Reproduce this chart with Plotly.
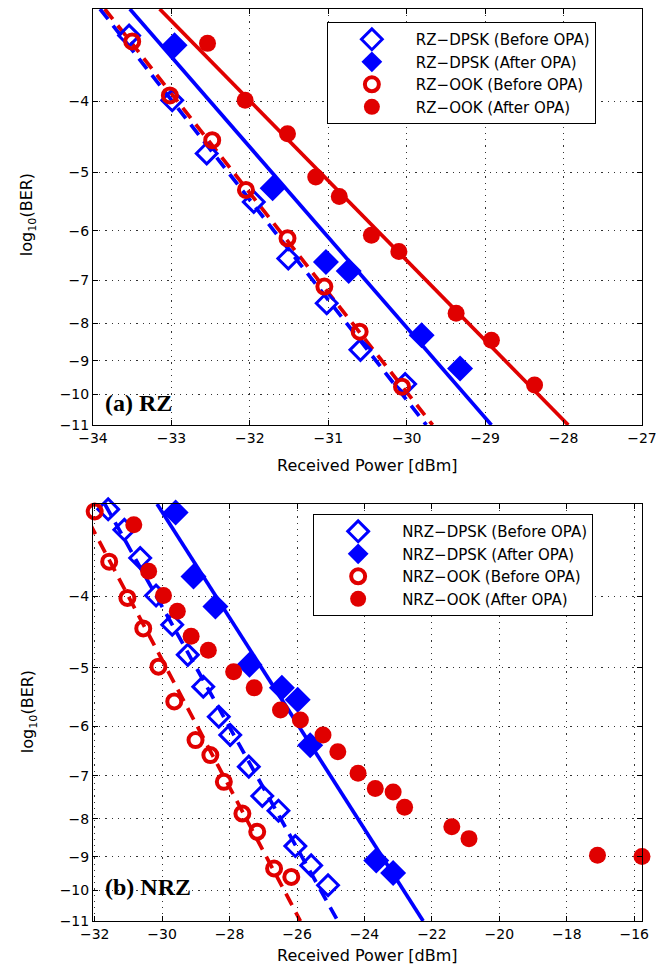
import math
import plotly.graph_objects as go

# ---------------- data (log10(BER) vs received power in dBm) ----------------
# (a) RZ
rz_dpsk_before_x = [-33.54, -32.99, -32.55, -31.95, -31.51, -31.02, -30.59, -30.02]
rz_dpsk_before_y = [-3.26, -3.99, -4.71, -5.48, -6.54, -7.52, -8.70, -9.68]
rz_dpsk_after_x = [-32.96, -31.71, -31.03, -30.74, -29.81, -29.32]
rz_dpsk_after_y = [-3.36, -5.25, -6.61, -6.80, -8.31, -9.22]
rz_ook_before_x = [-33.50, -33.02, -32.48, -32.05, -31.52, -31.05, -30.60, -30.06]
rz_ook_before_y = [-3.32, -3.93, -4.52, -5.28, -6.14, -7.14, -8.22, -9.76]
rz_ook_after_x = [-32.54, -32.06, -31.52, -31.16, -30.86, -30.45, -30.10, -29.37, -28.92, -28.37]
rz_ook_after_y = [-3.34, -3.99, -4.43, -5.07, -5.39, -6.08, -6.40, -7.76, -8.44, -9.71]
# fitted lines (end points)
rz_fit_dpsk_before_x = [-33.91, -29.75]
rz_fit_dpsk_before_y = [-3, -11]
rz_fit_ook_before_x = [-33.85, -29.67]
rz_fit_ook_before_y = [-3, -11]
rz_fit_dpsk_after_x = [-33.53, -28.92]
rz_fit_dpsk_after_y = [-3, -11]
rz_fit_ook_after_x = [-33.15, -27.94]
rz_fit_ook_after_y = [-3, -11]

# (b) NRZ
nrz_dpsk_before_x = [-31.60, -31.12, -30.65, -30.18, -29.70, -29.24, -28.78, -28.32,
                     -27.98, -27.43, -27.03, -26.55, -26.05, -25.58, -25.08]
nrz_dpsk_before_y = [-3.05, -3.25, -3.55, -3.99, -4.37, -4.80, -5.30, -5.82,
                     -6.16, -6.80, -7.45, -7.80, -8.71, -9.25, -9.84]
nrz_dpsk_after_x = [-29.60, -29.07, -28.42, -27.41, -26.45, -25.98, -25.61, -23.65, -23.15]
nrz_dpsk_after_y = [-3.08, -3.76, -4.13, -4.95, -5.32, -5.52, -6.36, -9.11, -9.47]
nrz_ook_before_x = [-32.00, -31.57, -31.03, -30.56, -30.11, -29.64, -29.01, -28.57,
                    -28.17, -27.62, -27.18, -26.68, -26.17]
nrz_ook_before_y = [-3.07, -3.59, -4.02, -4.42, -4.98, -5.55, -6.26, -6.56,
                    -7.13, -7.87, -8.33, -9.34, -9.59]
nrz_ook_after_x = [-31.34, -30.84, -30.40, -29.96, -29.55, -29.14, -28.63, -27.88, -27.27,
                   -26.49, -25.90, -25.23, -24.79, -24.19, -23.68, -23.15, -22.81, -21.41,
                   -20.90, -17.09, -15.77]
nrz_ook_after_y = [-3.00, -3.20, -3.70, -3.99, -4.19, -4.53, -4.73, -5.06, -5.32,
                   -5.70, -5.88, -6.16, -6.49, -6.94, -7.28, -7.36, -7.72, -8.20,
                   -8.51, -8.96, -9.00]
nrz_fit_dpsk_before_x = [-31.70, -24.79]
nrz_fit_dpsk_before_y = [-3, -11]
nrz_fit_ook_before_x = [-32.45, -25.90]
nrz_fit_ook_before_y = [-3, -11]
nrz_fit_dpsk_after_x = [-30.15, -22.26]
nrz_fit_dpsk_after_y = [-3, -11]

ytick_vals = [-4, -5, -6, -7, -8, -9, -10, -11]
ytick_text = ["−4", "−5", "−6", "−7", "−8", "−9", "−10", "−11"]
xtick_top = [-34, -33, -32, -31, -30, -29, -28, -27]
xtick_bot = [-32, -30, -28, -26, -24, -22, -20, -18, -16]

# ---------------- figure ----------------
BLUE = "#0000ff"
RED = "#e00000"
FONT = "DejaVu Sans, Liberation Sans, Arial, sans-serif"
SERIF = "Liberation Serif, Times New Roman, serif"


def neg(v):
    return [-a for a in v]


fig = go.Figure()


def markers(x, y, name, symbol, color, xa, ya, legend, size, lw):
    fig.add_trace(go.Scatter(
        x=x, y=neg(y), mode="markers", name=name, xaxis=xa, yaxis=ya, legend=legend,
        cliponaxis=False,
        marker=dict(symbol=symbol, color=color, size=size,
                    line=dict(color=color, width=lw))))


def fitline(x, y, color, dash, xa, ya):
    fig.add_trace(go.Scatter(
        x=x, y=neg(y), mode="lines", showlegend=False, xaxis=xa, yaxis=ya,
        line=dict(color=color, width=3.7, dash=dash)))


DASH = "13px,8px"
# top panel
fitline(rz_fit_dpsk_before_x, rz_fit_dpsk_before_y, BLUE, DASH, "x", "y")
fitline(rz_fit_ook_before_x, rz_fit_ook_before_y, RED, DASH, "x", "y")
fitline(rz_fit_dpsk_after_x, rz_fit_dpsk_after_y, BLUE, "solid", "x", "y")
fitline(rz_fit_ook_after_x, rz_fit_ook_after_y, RED, "solid", "x", "y")
markers(rz_dpsk_before_x, rz_dpsk_before_y, "RZ−DPSK (Before OPA)", "diamond-open", BLUE, "x", "y", "legend", 16, 3)
markers(rz_dpsk_after_x, rz_dpsk_after_y, "RZ−DPSK (After OPA)", "diamond", BLUE, "x", "y", "legend", 20, 0)
markers(rz_ook_before_x, rz_ook_before_y, "RZ−OOK (Before OPA)", "circle-open", RED, "x", "y", "legend", 14, 4)
markers(rz_ook_after_x, rz_ook_after_y, "RZ−OOK (After OPA)", "circle", RED, "x", "y", "legend", 17, 0)

# bottom panel
fitline(nrz_fit_dpsk_before_x, nrz_fit_dpsk_before_y, BLUE, DASH, "x2", "y2")
fitline(nrz_fit_ook_before_x, nrz_fit_ook_before_y, RED, DASH, "x2", "y2")
fitline(nrz_fit_dpsk_after_x, nrz_fit_dpsk_after_y, BLUE, "solid", "x2", "y2")
markers(nrz_dpsk_before_x, nrz_dpsk_before_y, "NRZ−DPSK (Before OPA)", "diamond-open", BLUE, "x2", "y2", "legend2", 16, 3)
markers(nrz_dpsk_after_x, nrz_dpsk_after_y, "NRZ−DPSK (After OPA)", "diamond", BLUE, "x2", "y2", "legend2", 20, 0)
markers(nrz_ook_before_x, nrz_ook_before_y, "NRZ−OOK (Before OPA)", "circle-open", RED, "x2", "y2", "legend2", 14, 4)
markers(nrz_ook_after_x, nrz_ook_after_y, "NRZ−OOK (After OPA)", "circle", RED, "x2", "y2", "legend2", 17, 0)

axis_common = dict(showline=True, linecolor="black", linewidth=1, mirror="ticks",
                   ticks="inside", ticklen=5, tickcolor="black",
                   showgrid=True, gridcolor="#333333", griddash="1.2px,5px", gridwidth=1.2,
                   zeroline=False, tickfont=dict(family=FONT, size=14, color="black"))

yax = dict(axis_common, type="log", range=[math.log10(11), math.log10(3)],
           tickvals=neg(ytick_vals), ticktext=ytick_text)

# page body has an 8px margin; size the figure so the plot lands where the reference has it
fig.update_layout(
    width=656, height=965,
    margin=dict(l=85, r=22, t=1, b=52),
    paper_bgcolor="white", plot_bgcolor="white",
    font=dict(family=FONT, color="black"),
    xaxis=dict(axis_common, domain=[0, 1], range=[-34, -27], tickvals=xtick_top,
               ticktext=["−%d" % abs(v) for v in xtick_top], anchor="y"),
    yaxis=dict(yax, domain=[0.5439, 1], anchor="x"),
    xaxis2=dict(axis_common, domain=[0, 1], range=[-32.05, -15.77], tickvals=xtick_bot,
                ticktext=["−%d" % abs(v) for v in xtick_bot], anchor="y2"),
    yaxis2=dict(yax, domain=[0, 0.4572], anchor="x2"),
    legend=dict(x=0.426, y=0.9857, xanchor="left", yanchor="top",
                bgcolor="white", bordercolor="black", borderwidth=1,
                font=dict(family=FONT, size=15, color="black"),
                itemwidth=78, tracegroupgap=0),
    legend2=dict(x=0.401, y=0.4462, xanchor="left", yanchor="top",
                 bgcolor="white", bordercolor="black", borderwidth=1,
                 font=dict(family=FONT, size=15, color="black"),
                 itemwidth=78, tracegroupgap=0),
    showlegend=True,
)

ann = [
    dict(text="Received Power [dBm]", x=0.5, y=0.5, xref="paper", yref="paper",
         showarrow=False, font=dict(family=FONT, size=16), xanchor="center", yanchor="middle"),
    dict(text="Received Power [dBm]", x=0.5, y=-0.0373, xref="paper", yref="paper",
         showarrow=False, font=dict(family=FONT, size=16), xanchor="center", yanchor="middle"),
    dict(text="log<sub>10</sub>(BER)", x=-0.118, y=(921 - 215) / 912, xref="paper", yref="paper",
         showarrow=False, textangle=-90, font=dict(family=FONT, size=16),
         xanchor="center", yanchor="middle"),
    dict(text="log<sub>10</sub>(BER)", x=-0.118, y=(921 - 712) / 912, xref="paper", yref="paper",
         showarrow=False, textangle=-90, font=dict(family=FONT, size=16),
         xanchor="center", yanchor="middle"),
    dict(text="<b>(a) RZ</b>", x=0.018, y=(921 - 403) / 912, xref="paper", yref="paper",
         showarrow=False, font=dict(family=SERIF, size=24),
         xanchor="left", yanchor="middle"),
    dict(text="<b>(b) NRZ</b>", x=0.018, y=(921 - 887) / 912, xref="paper", yref="paper",
         showarrow=False, font=dict(family=SERIF, size=24),
         xanchor="left", yanchor="middle"),
]
fig.update_layout(annotations=ann)

fig.write_html("out.html")
